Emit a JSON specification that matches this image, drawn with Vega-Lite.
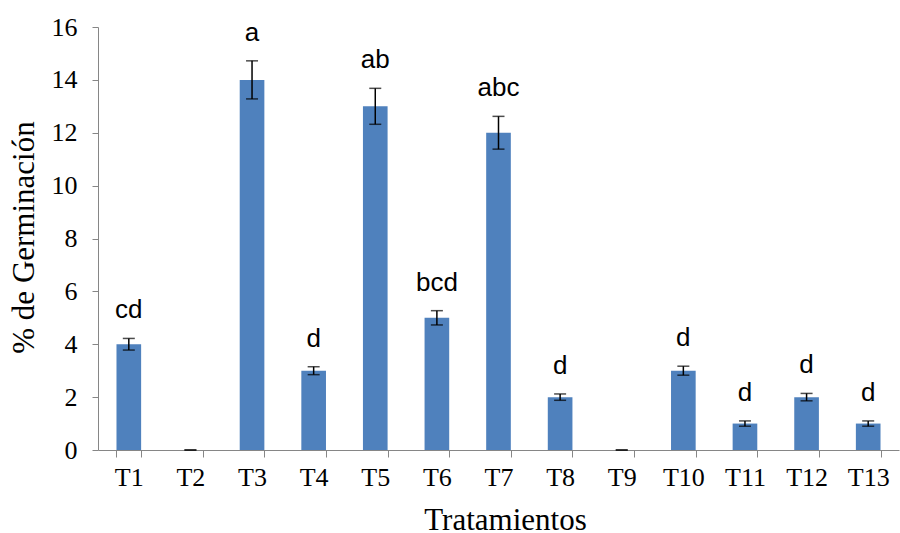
{
  "$schema": "https://vega.github.io/schema/vega-lite/v6.json",
  "width": 801,
  "height": 423,
  "autosize": {"type": "none"},
  "padding": {"left": 98, "top": 27, "right": 1, "bottom": 83},
  "background": "white",
  "config": {"view": {"stroke": null}},
  "data": {
    "values": [
      {"trat": "T1", "value": 4, "err": 0.22, "letra": "cd"},
      {"trat": "T2", "value": 0, "err": 0, "letra": ""},
      {"trat": "T3", "value": 14, "err": 0.72, "letra": "a"},
      {"trat": "T4", "value": 3, "err": 0.15, "letra": "d"},
      {"trat": "T5", "value": 13, "err": 0.68, "letra": "ab"},
      {"trat": "T6", "value": 5, "err": 0.27, "letra": "bcd"},
      {"trat": "T7", "value": 12, "err": 0.62, "letra": "abc"},
      {"trat": "T8", "value": 2, "err": 0.12, "letra": "d"},
      {"trat": "T9", "value": 0, "err": 0, "letra": ""},
      {"trat": "T10", "value": 3, "err": 0.17, "letra": "d"},
      {"trat": "T11", "value": 1, "err": 0.1, "letra": "d"},
      {"trat": "T12", "value": 2, "err": 0.14, "letra": "d"},
      {"trat": "T13", "value": 1, "err": 0.1, "letra": "d"}
    ]
  },
  "transform": [
    {"calculate": "datum.value + datum.err", "as": "upper"},
    {"calculate": "datum.value - datum.err", "as": "lower"}
  ],
  "encoding": {
    "x": {
      "field": "trat",
      "type": "nominal",
      "sort": null,
      "scale": {"paddingInner": 0.6, "paddingOuter": 0.3},
      "axis": {
        "title": "Tratamientos",
        "labelAngle": 0,
        "labelFont": "Liberation Serif",
        "labelFontSize": 26,
        "labelColor": "black",
        "labelPadding": 7,
        "tickBand": "extent",
        "tickSize": 7,
        "tickColor": "#868686",
        "domainColor": "#868686",
        "titleFont": "Liberation Serif",
        "titleFontSize": 31,
        "titleFontWeight": "normal",
        "titleColor": "black",
        "titleBaseline": "alphabetic",
        "titleY": 79,
        "titleX": 407
      }
    }
  },
  "layer": [
    {
      "mark": {"type": "bar", "color": "#4F81BD"},
      "encoding": {
        "y": {
          "field": "value",
          "type": "quantitative",
          "scale": {"domain": [0, 16], "nice": false},
          "axis": {
            "title": "% de Germinación",
            "values": [0, 2, 4, 6, 8, 10, 12, 14, 16],
            "grid": false,
            "labelFont": "Liberation Serif",
            "labelFontSize": 26,
            "labelColor": "black",
            "labelPadding": 15,
            "tickSize": 6,
            "tickColor": "#868686",
            "domainColor": "#868686",
            "titleFont": "Liberation Serif",
            "titleFontSize": 31,
            "titleFontWeight": "normal",
            "titleColor": "black",
            "titleBaseline": "alphabetic",
            "titleX": -65,
            "titleY": 210
          }
        }
      }
    },
    {
      "mark": {"type": "rule", "color": "black", "strokeWidth": 1.5},
      "encoding": {
        "y": {"field": "lower", "type": "quantitative"},
        "y2": {"field": "upper"}
      }
    },
    {
      "mark": {"type": "tick", "color": "black", "size": 12, "thickness": 1.5},
      "encoding": {"y": {"field": "upper", "type": "quantitative"}}
    },
    {
      "mark": {"type": "tick", "color": "black", "size": 12, "thickness": 1.5},
      "encoding": {"y": {"field": "lower", "type": "quantitative"}}
    },
    {
      "mark": {"type": "text", "font": "Liberation Sans", "fontSize": 26, "color": "black", "baseline": "alphabetic", "dy": -20},
      "encoding": {
        "y": {"field": "upper", "type": "quantitative"},
        "text": {"field": "letra"}
      }
    }
  ]
}
